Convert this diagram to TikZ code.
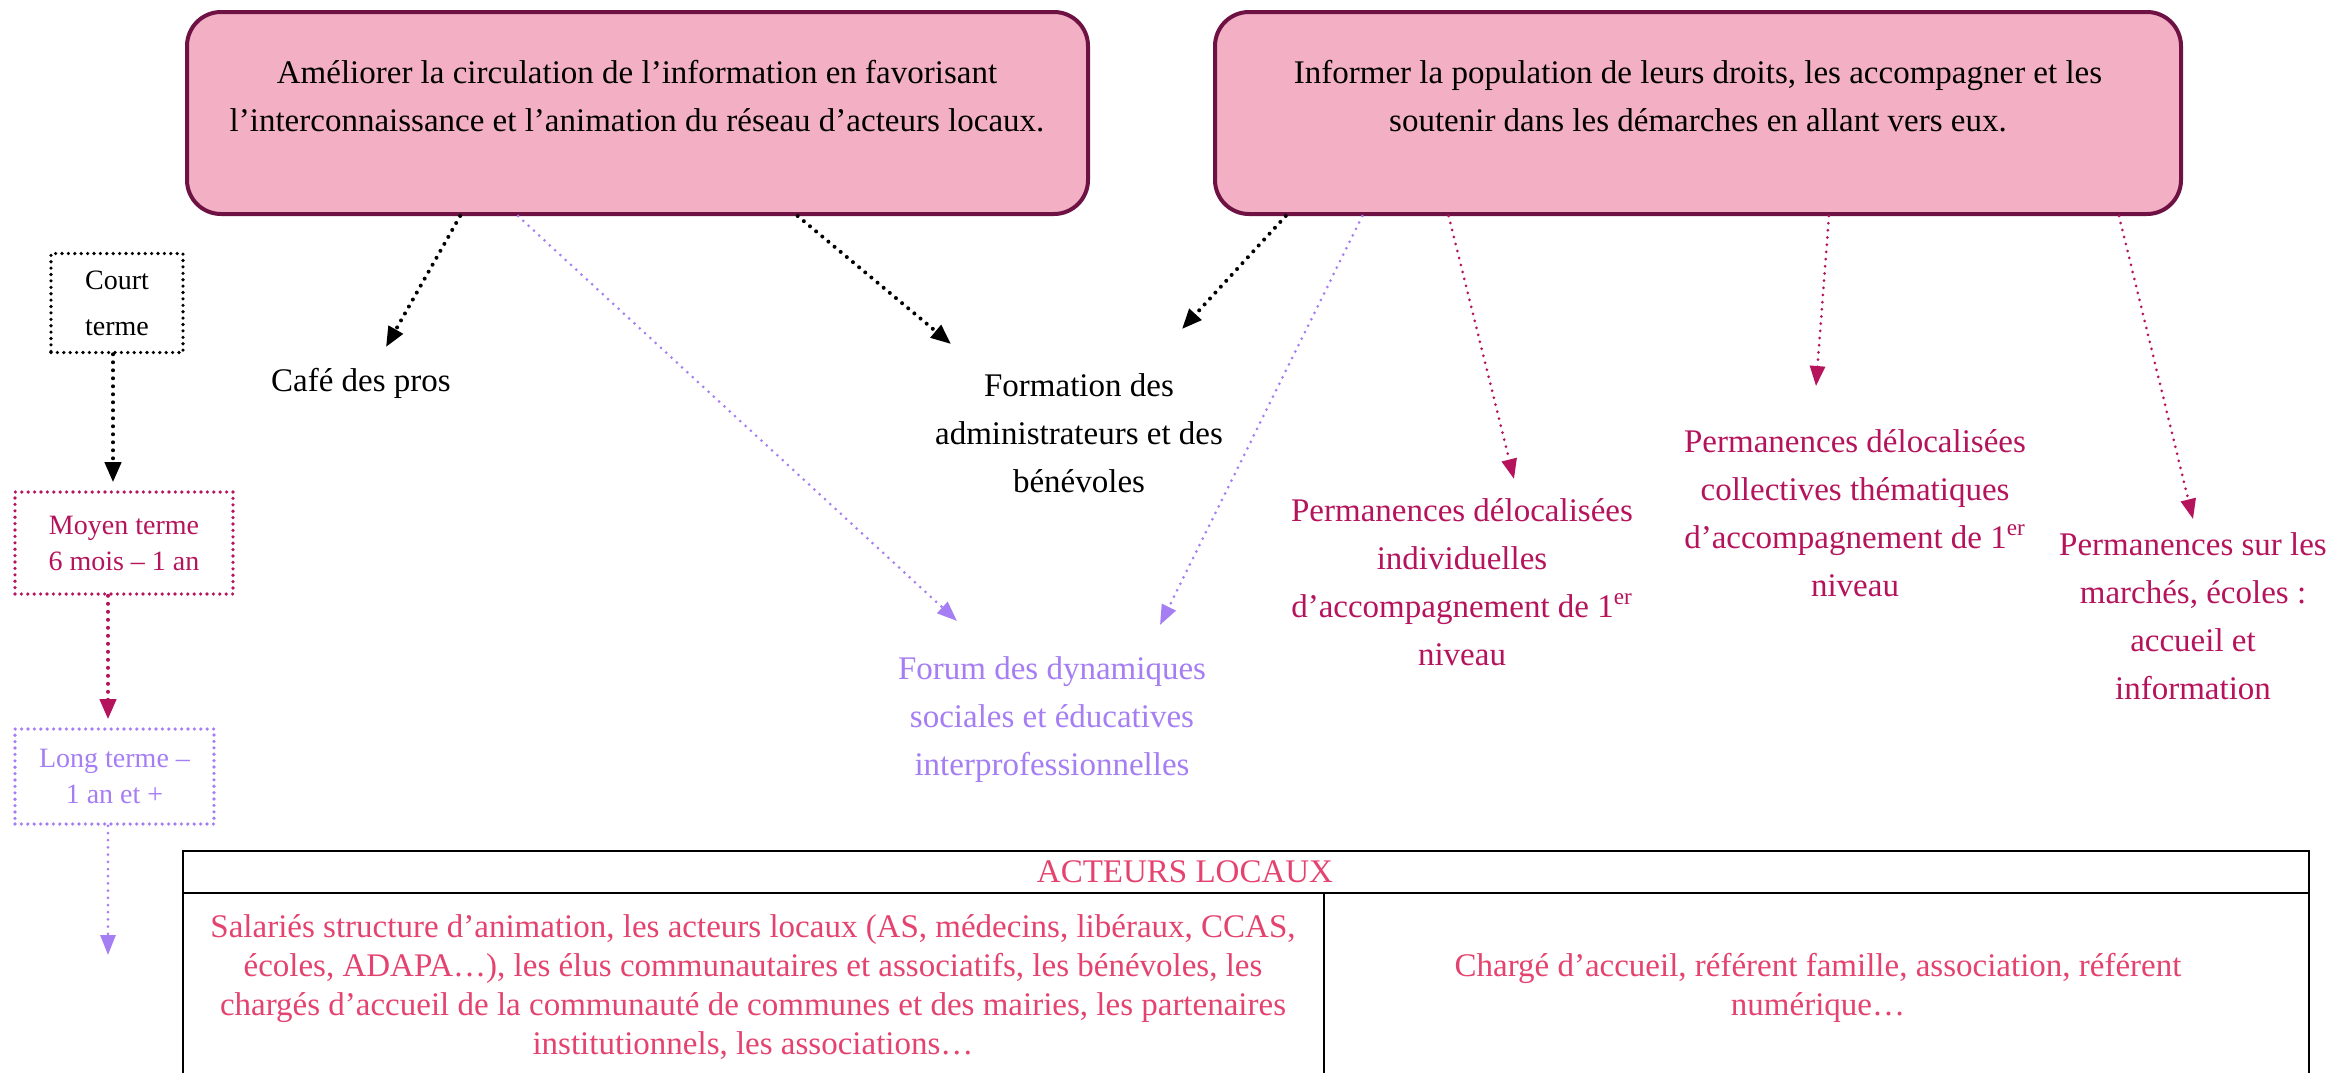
\documentclass[tikz,border=0pt]{standalone}
\usepackage{fontspec}
\setmainfont{Liberation Serif}
\usetikzlibrary{arrows.meta,calc}
\definecolor{boxfill}{HTML}{F3B0C4}
\definecolor{boxdraw}{HTML}{6E1143}
\definecolor{mag}{HTML}{B5145C}
\definecolor{lav}{HTML}{A67EF4}
\definecolor{tred}{HTML}{E5436F}
\begin{document}
\begin{tikzpicture}[x=0.5pt,y=-0.5pt,
  goal/.style={draw=boxdraw,line width=2pt,fill=boxfill,rounded corners=17pt,inner sep=0pt,minimum height=101pt},
  maintxt/.style={align=center,inner sep=0pt,font=\fontsize{16.5}{24}\selectfont},
  tbltxt/.style={align=center,inner sep=0pt,text=tred,font=\fontsize{16.5}{19.5}\selectfont},
  dotbox/.style={line width=1.8pt,dash pattern=on 0pt off 3.2pt,line cap=round,inner sep=0pt,align=center,font=\fontsize{14}{18}\selectfont},
  dotarr/.style={line width=2pt,dash pattern=on 0pt off 4pt,line cap=round,-{Triangle[length=10pt,width=8pt]}},
  thinarr/.style={line width=1.5pt,dash pattern=on 0pt off 3.6pt,line cap=round,-{Triangle[length=10pt,width=7.5pt]}},
  tline/.style={line width=0.8pt,black}]
\useasboundingbox (0,0) rectangle (2346,1072);
\fill[white] (0,0) rectangle (2346,1072);

% goal boxes
\node[goal,minimum width=450.5pt] (b1) at (637.5,113) {};
\node[maintxt] (b1t) at (637,96) {Améliorer la circulation de l’information en favorisant\\l’interconnaissance et l’animation du réseau d’acteurs locaux.};
\node[goal,minimum width=483pt] (b2) at (1698,113) {};
\node[maintxt] (b2t) at (1698,96) {Informer la population de leurs droits, les accompagner et les\\soutenir dans les démarches en allant vers eux.};

% time boxes
\node[dotbox,draw=black,minimum width=66pt,minimum height=49.5pt,font=\fontsize{14}{23}\selectfont] (court) at (117,303) {Court\\terme};
\node[dotbox,draw=mag,text=mag,minimum width=109pt,minimum height=51pt] (moyen) at (124,543) {Moyen terme\\6 mois – 1 an};
\node[dotbox,draw=lav,text=lav,minimum width=99.5pt,minimum height=47.5pt] (long) at (114.5,776.5) {Long terme –\\1 an et +};
\coordinate (endlong) at (108,955);
\coordinate (mx) at (108,600);

\draw[dotarr,black,shorten >=4pt] ([xshift=-2pt]court.south) -- ([xshift=-2pt]court.south |- moyen.north);
\draw[dotarr,mag,shorten >=4pt] (moyen.south -| mx) -- (long.north -| mx);
\draw[thinarr,lav] (long.south -| endlong) -- (endlong);

% action labels
\node[maintxt] (cafe) at (361,383) {Café des pros};
\node[maintxt] (form) at (1079,433) {Formation des\\administrateurs et des\\bénévoles};
\node[maintxt,text=lav] (forum) at (1052,720) {Forum des dynamiques\\sociales et éducatives\\interprofessionnelles};
\node[maintxt,text=mag] (perm1) at (1462,582) {Permanences délocalisées\\individuelles\\d’accompagnement de 1\textsuperscript{er}\\niveau};
\node[maintxt,text=mag] (perm2) at (1855,513) {Permanences délocalisées\\collectives thématiques\\d’accompagnement de 1\textsuperscript{er}\\niveau};
\node[maintxt,text=mag] (perm3) at (2193,616) {Permanences sur les\\marchés, écoles :\\accueil et\\information};

% connectors
\draw[dotarr,black] ($(b1.south west)!0.304!(b1.south east)$) -- ([shift={(25,-36)}]cafe.center);
\draw[thinarr,lav] ($(b1.south west)!0.368!(b1.south east)$) -- ([shift={(-95,-99)}]forum.center);
\draw[dotarr,black] ($(b1.south west)!0.677!(b1.south east)$) -- ([shift={(-128,-89)}]form.center);
\draw[dotarr,black] ($(b2.south west)!0.075!(b2.south east)$) -- ([shift={(103,-104)}]form.center);
\draw[thinarr,lav] ($(b2.south west)!0.154!(b2.south east)$) -- ([shift={(108,-95)}]forum.center);
\draw[thinarr,mag] ($(b2.south west)!0.243!(b2.south east)$) -- ([shift={(52,-103)}]perm1.center);
\draw[thinarr,mag] ($(b2.south west)!0.635!(b2.south east)$) -- ([shift={(-39,-127)}]perm2.center);
\draw[thinarr,mag] ($(b2.south west)!0.934!(b2.south east)$) -- ([shift={(0,-97)}]perm3.center);

% table
\draw[tline] (183,1090) -- (183,851) -- (2309,851) -- (2309,1090);
\draw[tline,line width=1.2pt] (183,851) -- (2309,851);
\draw[tline,line width=1.2pt] (183,893) -- (2309,893);
\draw[tline] (1324,893) -- (1324,1090);
\node[tbltxt,font=\fontsize{16.5}{20}\selectfont] (head) at (1185,872) {ACTEURS LOCAUX};
\node[tbltxt] (cellL) at (753,987) {Salariés structure d’animation, les acteurs locaux (AS, médecins, libéraux, CCAS,\\écoles, ADAPA…), les élus communautaires et associatifs, les bénévoles, les\\chargés d’accueil de la communauté de communes et des mairies, les partenaires\\institutionnels, les associations…};
\node[tbltxt] (cellR) at (1818,988) {Chargé d’accueil, référent famille, association, référent\\numérique…};
\end{tikzpicture}
\end{document}
